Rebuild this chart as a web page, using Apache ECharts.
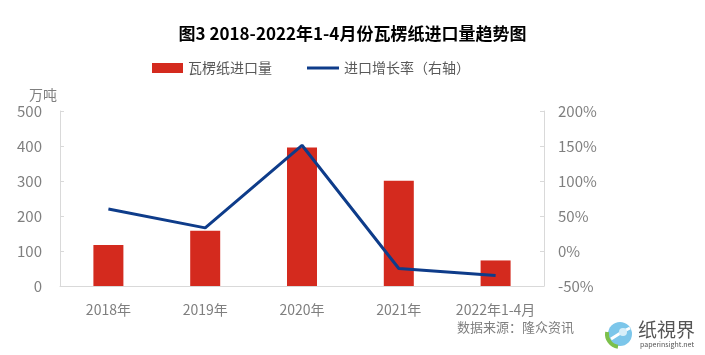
<!DOCTYPE html>
<html><head><meta charset="utf-8">
<script src="https://cdn.jsdelivr.net/npm/echarts@6/dist/echarts.min.js"></script>
<style>html,body{margin:0;padding:0;background:#fff}#c{width:705px;height:355px}</style>
</head><body><div id="c"></div>
<script>
const categories = ['2018年', '2019年', '2020年', '2021年', '2022年1-4月'];
const importVolume = [117, 158, 396, 301, 73];
const growthRate = [60, 33, 151, -25, -35];
const leftTicks = [0, 100, 200, 300, 400, 500];
const rightTicks = [-50, 0, 50, 100, 150, 200];

const FONT = '"Noto Sans CJK SC", "Noto Sans", sans-serif';
const legendText = { fontSize: 14, color: '#595959', fontFamily: FONT };
const chart = echarts.init(document.getElementById('c'));
chart.setOption({
  animation: false,
  textStyle: { fontFamily: FONT },
  title: {
    text: '图3 2018-2022年1-4月份瓦楞纸进口量趋势图',
    left: 'center', top: 20,
    textStyle: { fontSize: 17, fontWeight: 'bold', color: '#000', fontFamily: FONT }
  },
  legend: [
    {
      top: 61, left: 152, padding: 0,
      textStyle: legendText,
      data: [{ name: '瓦楞纸进口量', icon: 'rect', itemStyle: { color: '#D42A1E' } }],
      itemWidth: 31, itemHeight: 10
    },
    {
      top: 61, left: 307, padding: 0,
      textStyle: legendText,
      data: [{ name: '进口增长率（右轴）', icon: 'rect', itemStyle: { color: '#0E3C8A' } }],
      itemWidth: 32, itemHeight: 3
    }
  ],
  grid: { left: 60, right: 161, top: 111, bottom: 69 },
  xAxis: {
    type: 'category', data: categories,
    axisLine: { lineStyle: { color: '#d9d9d9', width: 1 } },
    axisTick: { show: false },
    axisLabel: { color: '#7f7f7f', fontSize: 14, margin: 17, interval: 0, fontFamily: FONT }
  },
  yAxis: [
    {
      type: 'value', min: leftTicks[0], max: leftTicks[leftTicks.length - 1], interval: 100,
      name: '万吨', nameGap: 9, nameTextStyle: { color: '#7f7f7f', fontSize: 14, align: 'right', padding: [0, 3, 0, 0] },
      axisLine: { show: true, lineStyle: { color: '#d9d9d9' } },
      axisTick: { show: true, inside: true, length: 4, lineStyle: { color: '#d9d9d9' } },
      splitLine: { show: false },
      axisLabel: { color: '#7f7f7f', fontSize: 15, margin: 18, fontFamily: FONT }
    },
    {
      type: 'value', min: rightTicks[0], max: rightTicks[rightTicks.length - 1], interval: 50,
      position: 'right',
      axisLine: { show: true, lineStyle: { color: '#d9d9d9' } },
      axisTick: { show: true, inside: true, length: 4, lineStyle: { color: '#d9d9d9' } },
      splitLine: { show: false },
      axisLabel: { color: '#7f7f7f', fontSize: 15, margin: 14, formatter: '{value}%', fontFamily: FONT }
    }
  ],
  series: [
    {
      name: '瓦楞纸进口量', type: 'bar', data: importVolume, barWidth: 30,
      itemStyle: { color: '#D42A1E' }
    },
    {
      name: '进口增长率（右轴）', type: 'line', yAxisIndex: 1, data: growthRate,
      symbol: 'none', lineStyle: { color: '#0E3C8A', width: 3 }, itemStyle: { color: '#0E3C8A' }
    }
  ],
  graphic: [
    { type: 'text', left: 457, top: 321, style: { text: '数据来源：隆众资讯', fill: '#7f7f7f', font: '13px ' + FONT } },
    { type: 'circle', shape: { cx: 620, cy: 334, r: 12 }, style: { fill: '#7cc6ea' } },
    { type: 'polyline', shape: { points: [[611, 339], [622, 332], [630, 328]] }, style: { stroke: '#fff', lineWidth: 3, fill: 'none' } },
    { type: 'circle', shape: { cx: 623, cy: 332, r: 4 }, style: { fill: '#d6eef9' } },
    { type: 'arc', shape: { cx: 620, cy: 334, r: 13, startAngle: Math.PI * 0.55, endAngle: Math.PI * 1.05 }, style: { stroke: '#7cc04b', lineWidth: 4, fill: 'none' } },
    { type: 'text', left: 638, top: 320, style: { text: '纸視界', fill: '#555', font: '19px ' + FONT } },
    { type: 'text', left: 640, top: 341, style: { text: 'paperinsight.net', fill: '#555', font: '7px ' + FONT } }
  ]
});
</script></body></html>
